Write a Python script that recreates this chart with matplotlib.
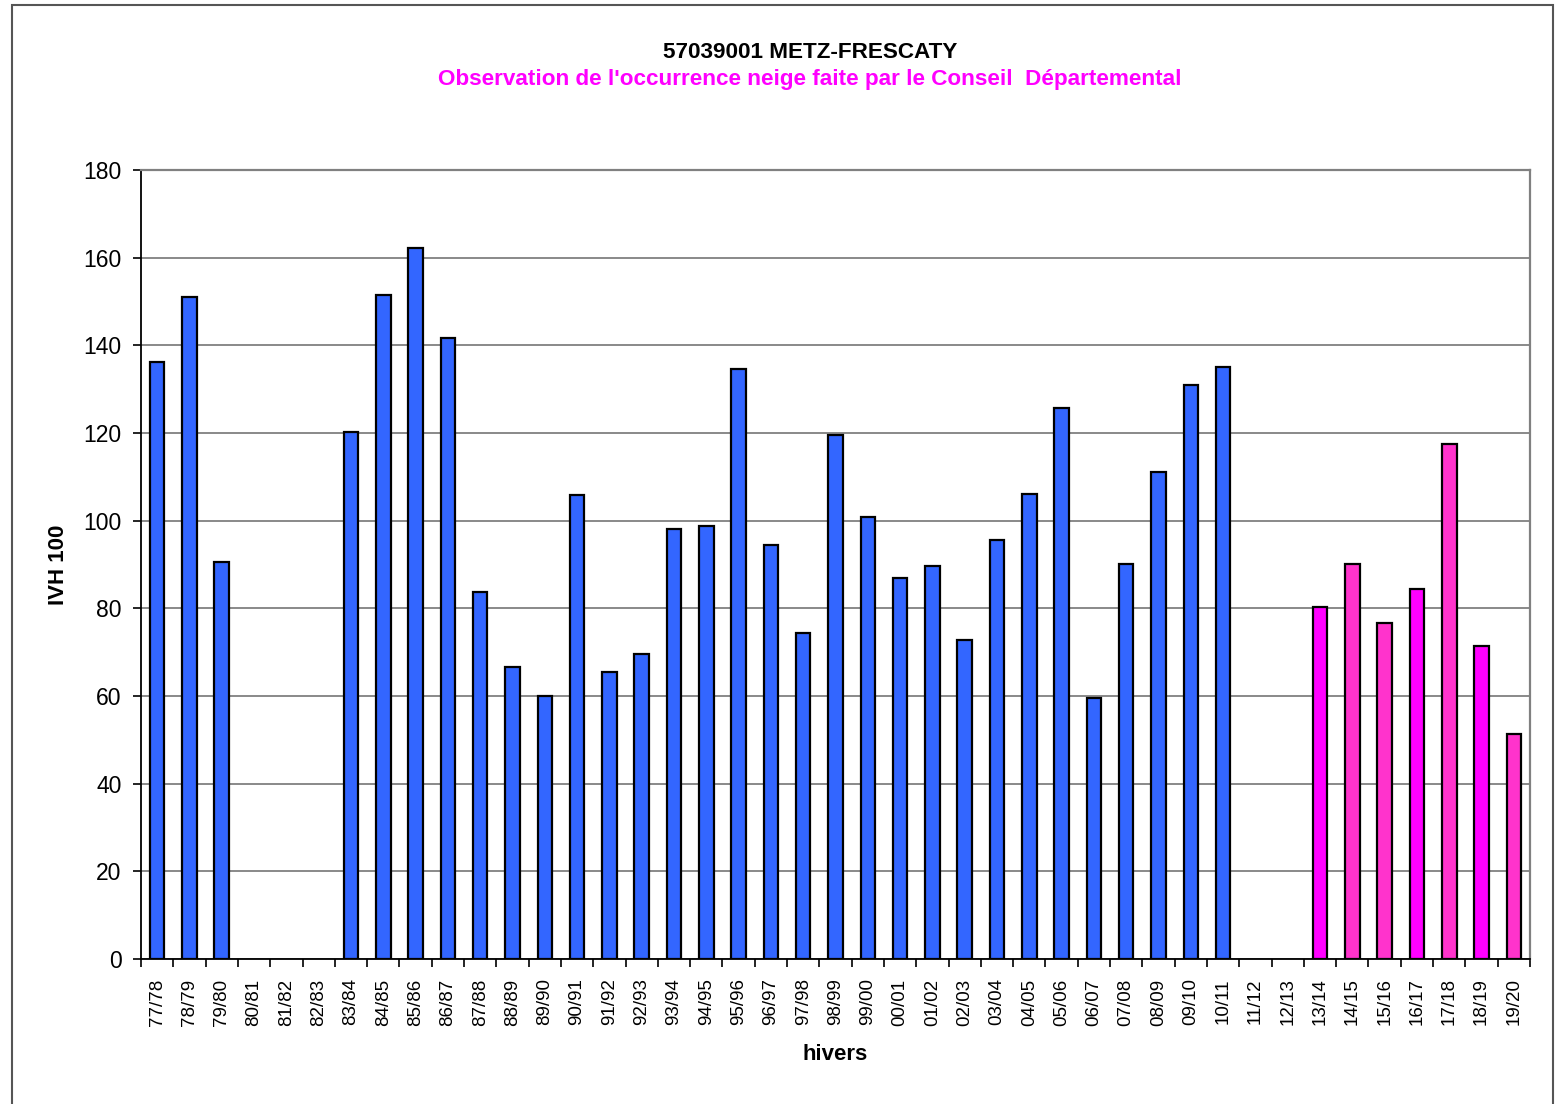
import matplotlib
matplotlib.use("Agg")
import matplotlib.pyplot as plt
from matplotlib.patches import Rectangle
import numpy as np

plt.rcParams['font.family'] = ['Liberation Sans', 'DejaVu Sans']

winters = ["77/78", "78/79", "79/80", "80/81", "81/82", "82/83", "83/84", "84/85",
           "85/86", "86/87", "87/88", "88/89", "89/90", "90/91", "91/92", "92/93",
           "93/94", "94/95", "95/96", "96/97", "97/98", "98/99", "99/00", "00/01",
           "01/02", "02/03", "03/04", "04/05", "05/06", "06/07", "07/08", "08/09",
           "09/10", "10/11", "11/12", "12/13", "13/14", "14/15", "15/16", "16/17",
           "17/18", "18/19", "19/20"]
# None = no observation that winter
ivh = [136.2, 151.0, 90.6, None, None, None, 120.2, 151.5,
       162.2, 141.7, 83.7, 66.6, 60.0, 105.9, 65.5, 69.6,
       98.1, 98.8, 134.6, 94.5, 74.4, 119.6, 100.8, 86.9,
       89.7, 72.8, 95.6, 106.1, 125.7, 59.5, 90.1, 111.1,
       131.0, 135.1, None, None, 80.3, 90.1, 76.7, 84.4,
       117.5, 71.4, 51.3]
# source: 'M' = Météo-France obs (blue), 'C1'/'C2' = Conseil Départemental (magenta/pink)
source = ["M"] * 36 + ["C1", "C2", "C2", "C1", "C2", "C1", "C2"]
color_map = {"M": "#3366FF", "C1": "#FF00FF", "C2": "#FF33CC"}

W, H = 1557, 1104
fig = plt.figure(figsize=(W / 100, H / 100), dpi=100)
fig.patch.set_facecolor("white")

# outer chart border
fig.patches.append(Rectangle((12 / W, -0.02), (1553 - 12) / W, (1104 - 5) / H + 0.02,
                             transform=fig.transFigure, fill=False,
                             edgecolor="#555555", linewidth=1.5))

ax = fig.add_axes([141 / W, 1 - 959 / H, (1530 - 141) / W, (959 - 170) / H])
x = np.arange(len(winters))
vals = np.array([np.nan if v is None else v for v in ivh], dtype=float)
colors = [color_map[s] for s in source]
ax.bar(x, vals, width=0.45, color=colors, edgecolor="black", linewidth=1.6, zorder=3)

ax.set_xlim(-0.5, len(winters) - 0.5)
ax.set_ylim(0, 180)
ax.set_yticks(np.arange(0, 181, 20))
ax.yaxis.grid(True, color="#808080", linewidth=1.3, zorder=0)
ax.set_axisbelow(True)

ax.set_xticks(x)
ax.set_xticklabels(winters, rotation=90, fontsize=13.5)
ax.set_xticks(np.arange(-0.5, len(winters), 1), minor=True)
ax.tick_params(axis="x", which="major", length=0, pad=14)
ax.tick_params(axis="x", which="minor", length=6, width=1.2, direction="out")
ax.tick_params(axis="y", labelsize=16.5, length=6, width=1.2, pad=8)

for s in ["left", "bottom"]:
    ax.spines[s].set_color("black")
    ax.spines[s].set_linewidth(1.3)
for s in ["top", "right"]:
    ax.spines[s].set_color("#808080")
    ax.spines[s].set_linewidth(1.6)

ax.set_ylabel("IVH 100", fontsize=16, fontweight="bold", labelpad=10)
ax.set_xlabel("hivers", fontsize=16, fontweight="bold", labelpad=13)

fig.text(810 / W, 1 - 53 / H, "57039001 METZ-FRESCATY", ha="center", va="center",
         fontsize=16.2, fontweight="bold", color="black")
fig.text(810 / W, 1 - 79 / H,
         "Observation de l'occurrence neige faite par le Conseil  Départemental",
         ha="center", va="center", fontsize=16.2, fontweight="bold", color="#FF00FF")

fig.savefig("out.png", dpi=100, facecolor="white")
